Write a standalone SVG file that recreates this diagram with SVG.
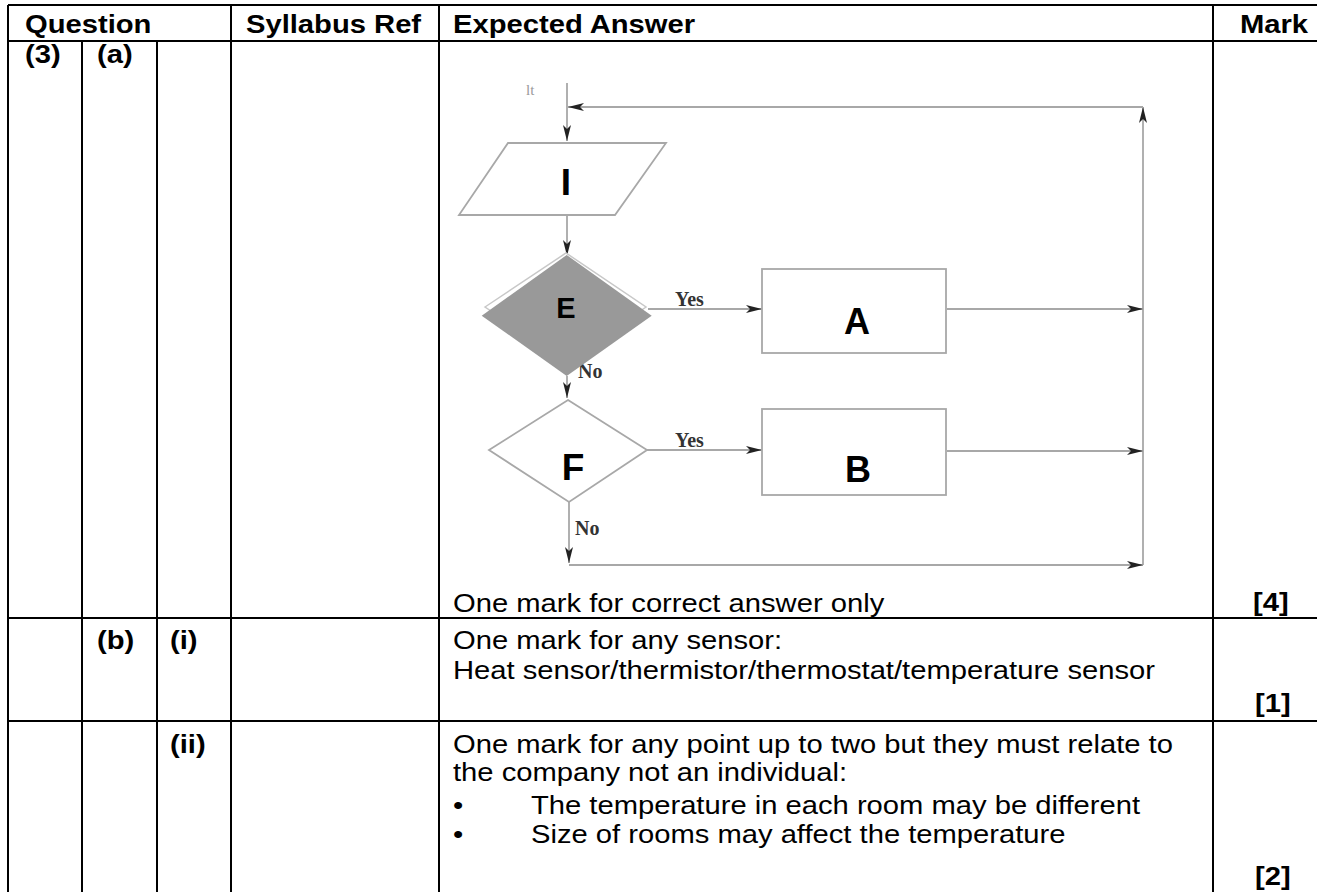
<svg xmlns="http://www.w3.org/2000/svg" width="1317" height="892" viewBox="0 0 1317 892">
<defs>
<style>
.tl{stroke:#000;stroke-width:2;fill:none}
.tx{font-family:"Liberation Sans",Arial,sans-serif;font-size:25.6px;fill:#000}
.b{font-weight:bold}
.fl{stroke:#a8a8a8;stroke-width:1.8;fill:none}
.fs{stroke:#a8a8a8;stroke-width:1.8;fill:#fff}
.lab{font-family:"Liberation Sans",Arial,sans-serif;font-weight:bold;fill:#000;text-anchor:middle}
.yn{font-family:"Liberation Serif","Times New Roman",serif;font-weight:bold;font-size:20px;fill:#333}
</style>
<marker id="ah" markerUnits="userSpaceOnUse" markerWidth="16" markerHeight="9" refX="16" refY="4.5" orient="auto">
<path d="M0,0.5 L16,4.5 L0,8.5 L4,4.5 z" fill="#222"/>
</marker>
</defs>
<rect width="1317" height="892" fill="#fff"/>

<g id="table">
<path class="tl" d="M8,5 H1317 M8,41 H1317 M8,618 H1317 M8,721 H1317"/>
<path class="tl" d="M8,5 V892 M82,41 V892 M157,41 V892 M231,5 V892 M439,5 V892 M1213,5 V892"/>
</g>

<g id="table-text" transform="scale(1.14 1)">
<text class="tx b" x="21.93" y="33">Question</text>
<text class="tx b" x="215.79" y="33">Syllabus Ref</text>
<text class="tx b" x="397.37" y="33">Expected Answer</text>
<text class="tx b" x="1087.72" y="33">Mark</text>
<text class="tx b" x="21.93" y="63">(3)</text>
<text class="tx b" x="85.09" y="63">(a)</text>
<text class="tx" x="397.37" y="612">One mark for correct answer only</text>
<text class="tx b" x="1099.12" y="611">[4]</text>
<text class="tx b" x="85.09" y="649">(b)</text>
<text class="tx b" x="149.12" y="649">(i)</text>
<text class="tx" x="397.37" y="649">One mark for any sensor:</text>
<text class="tx" x="397.37" y="679">Heat sensor/thermistor/thermostat/temperature sensor</text>
<text class="tx b" x="1100.9" y="712">[1]</text>
<text class="tx b" x="149.12" y="753">(ii)</text>
<text class="tx" x="397.37" y="753">One mark for any point up to two but they must relate to</text>
<text class="tx" x="397.37" y="781">the company not an individual:</text>
<text class="tx" x="397.37" y="814">•</text>
<text class="tx" x="465.79" y="814">The temperature in each room may be different</text>
<text class="tx" x="397.37" y="843">•</text>
<text class="tx" x="465.79" y="843">Size of rooms may affect the temperature</text>
<text class="tx b" x="1100.9" y="885">[2]</text>
</g>

<text x="526" y="95" font-family="Liberation Serif,serif" font-size="15" fill="#999">lt</text>

<g id="connectors">
<path class="fl" d="M567,83 V141" marker-end="url(#ah)"/>
<path class="fl" d="M1143,565 V107" marker-end="url(#ah)"/>
<path class="fl" d="M1143,107 H568" marker-end="url(#ah)"/>
<path class="fl" d="M567,215 V256" marker-end="url(#ah)"/>
<path class="fl" d="M567,376 V398" marker-end="url(#ah)"/>
<path class="fl" d="M648,309 H762" marker-end="url(#ah)"/>
<path class="fl" d="M647,450 H762" marker-end="url(#ah)"/>
<path class="fl" d="M947,309 H1143" marker-end="url(#ah)"/>
<path class="fl" d="M947,451 H1143" marker-end="url(#ah)"/>
<path class="fl" d="M569,502 V563" marker-end="url(#ah)"/>
<path class="fl" d="M569,565 H1143" marker-end="url(#ah)"/>
<text class="yn" x="675" y="306">Yes</text>
<text class="yn" x="675" y="447">Yes</text>
<text class="yn" x="578" y="378">No</text>
<text class="yn" x="575" y="535">No</text>
</g>

<g id="node-I">
<polygon class="fs" points="508,143 666,143 615,215 459,215"/>
<text class="lab" x="566" y="195" font-size="37">I</text>
</g>

<g id="node-E">
<polygon points="485,307 566,253 646,307 566,361" fill="#fff" stroke="#c8c8c8" stroke-width="1.5"/>
<polygon points="566.7,255 651.7,315.7 566.7,376 481.7,315.7" fill="#999"/>
<text class="lab" x="566" y="318" font-size="29">E</text>
</g>

<g id="node-F">
<polygon class="fs" points="568,400 647,450 569,502 489,450"/>
<text class="lab" x="573" y="480" font-size="37">F</text>
</g>

<g id="node-A">
<rect class="fs" x="762" y="269" width="184" height="84"/>
<text class="lab" x="857" y="334" font-size="36">A</text>
</g>

<g id="node-B">
<rect class="fs" x="762" y="409" width="184" height="86"/>
<text class="lab" x="858" y="482" font-size="36">B</text>
</g>
</svg>
